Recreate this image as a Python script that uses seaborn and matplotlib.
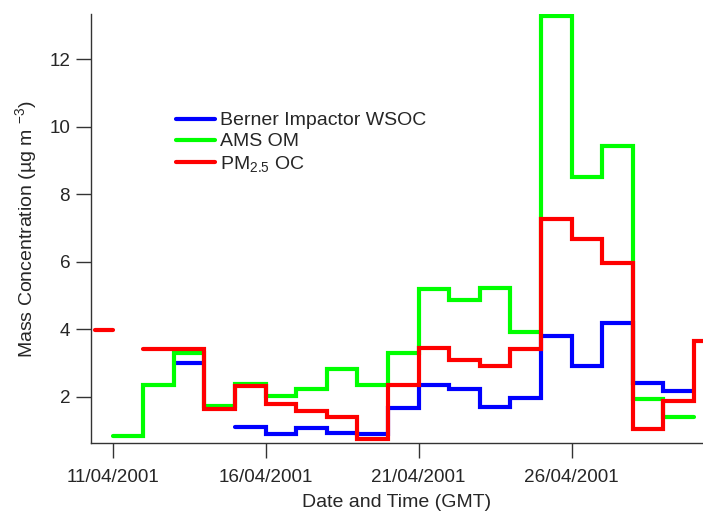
"""Mass concentration time series: Berner WSOC, AMS OM and PM2.5 OC (April 2001)."""
import numpy as np
import pandas as pd
import seaborn as sns
import matplotlib.pyplot as plt
import matplotlib.dates as mdates
from matplotlib.lines import Line2D

# daily samples, first one starting 11/04/2001 00:00 GMT, nan = no sample
START_DAY = "2001-04-11"
wsoc = [np.nan, np.nan, 2.99, np.nan, 1.11, 0.91, 1.09, 0.93, 0.91, 1.66,
        2.34, 2.22, 1.70, 1.97, 3.80, 2.92, 4.19, 2.41, 2.18]
ams_om = [0.84, 2.35, 3.31, 1.73, 2.38, 2.03, 2.23, 2.82, 2.34, 3.30,
          5.19, 4.86, 5.21, 3.91, 13.28, 8.51, 9.42, 1.92, 1.41]
pm25_oc = [np.nan, 3.42, 3.42, 1.64, 2.32, 1.78, 1.58, 1.39, 0.76, 2.34,
           3.46, 3.09, 2.92, 3.43, 7.26, 6.66, 5.95, 1.06, 1.88, 3.66]
# short PM2.5 filter before the daily series
pm25_early_start = "2001-04-10 10:00"
pm25_early_end = "2001-04-11 00:00"
pm25_early_value = 3.97

labels = ["Berner Impactor WSOC", "AMS OM", r"PM$_{2.5}$ OC"]
colors = ["#0000ff", "#00ff00", "#ff0000"]
tick_days = ["2001-04-11", "2001-04-16", "2001-04-21", "2001-04-26"]


def step_rows(name, values):
    """Split a daily series into runs, each closed with its end time."""
    days = pd.date_range(START_DAY, periods=len(values) + 1, freq="D")
    rows = []
    seg = 0
    run = []
    for i, v in enumerate(values + [np.nan]):
        if np.isnan(v):
            if run:
                rows += run
                rows.append((days[i], run[-1][1], name, f"{name}-{seg}"))
                seg += 1
                run = []
            continue
        run.append((days[i], v, name, f"{name}-{seg}"))
    return rows


rows = step_rows(labels[0], wsoc) + step_rows(labels[1], ams_om)
rows += [(pd.Timestamp(pm25_early_start), pm25_early_value, labels[2], "early"),
         (pd.Timestamp(pm25_early_end), pm25_early_value, labels[2], "early")]
rows += step_rows(labels[2], pm25_oc)
df = pd.DataFrame(rows, columns=["time", "conc", "series", "unit"])

sns.set_style("ticks")
plt.rcParams["font.family"] = ["Liberation Sans", "DejaVu Sans"]
plt.rcParams["mathtext.fontset"] = "custom"
plt.rcParams["mathtext.rm"] = "Liberation Sans"
plt.rcParams["mathtext.it"] = "Liberation Sans:italic"

fig = plt.figure(figsize=(7.03, 5.13), dpi=100)
ax = fig.add_axes([91 / 703, 1 - 442.7 / 513, (703 - 91) / 703, (442.7 - 14.3) / 513])

sns.lineplot(data=df, x="time", y="conc", hue="series", units="unit",
             estimator=None, hue_order=labels, palette=colors, sort=False,
             drawstyle="steps-post", lw=3, legend=False, ax=ax,
             solid_capstyle="round", solid_joinstyle="miter")

ax.set_xlim(pd.Timestamp("2001-04-10 07:00"), pd.Timestamp("2001-04-30 07:00"))
ax.set_ylim(0.64, 13.33)
ax.set_xticks(pd.to_datetime(tick_days))
ax.xaxis.set_major_formatter(mdates.DateFormatter("%d/%m/%Y"))
ax.set_yticks([2, 4, 6, 8, 10, 12])
ax.tick_params(axis="both", length=11, width=1, color="#333333", labelsize=13.6)
ax.tick_params(axis="x", pad=8)
ax.tick_params(axis="y", pad=4)
for s in ["left", "bottom"]:
    ax.spines[s].set_color("#333333")
    ax.spines[s].set_linewidth(1)
sns.despine(ax=ax)

ax.set_xlabel("Date and Time (GMT)", fontsize=14, labelpad=6)
ax.set_ylabel("Mass Concentration (µg m $^{-3}$)", fontsize=14, labelpad=7)

handles = [Line2D([], [], color=c, lw=3) for c in colors]
fig.legend(handles, labels, loc="center left", frameon=False, fontsize=14,
           bbox_to_anchor=(175.7 / 703, 1 - 142.7 / 513), borderpad=0,
           borderaxespad=0, handlelength=2.0, handletextpad=0.3,
           labelspacing=0.17)

plt.savefig("out.png", dpi=100)
